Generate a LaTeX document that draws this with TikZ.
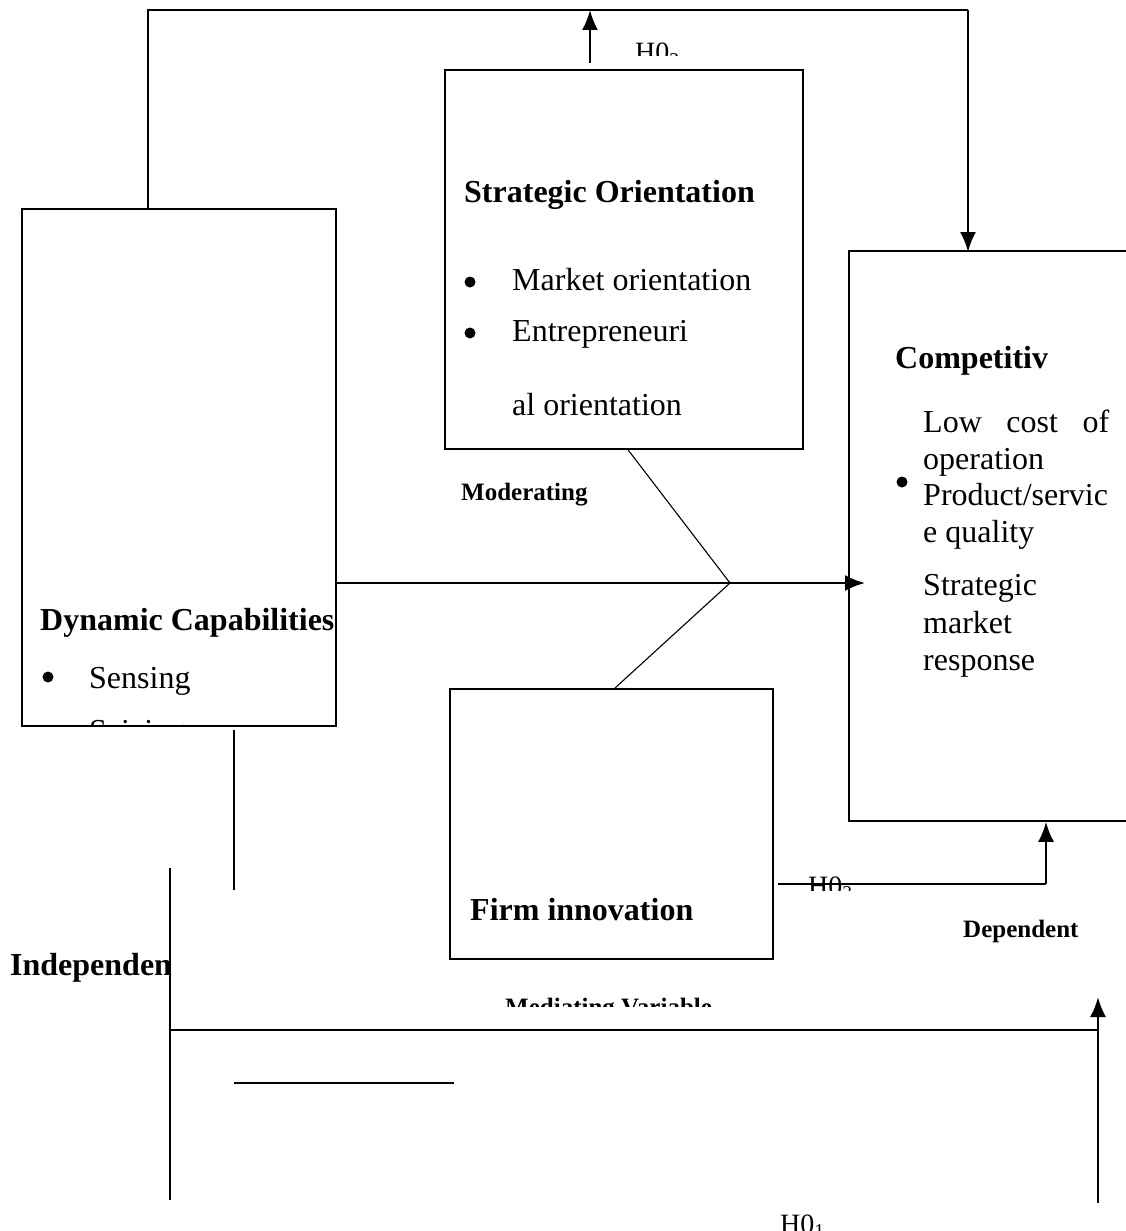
\documentclass[tikz,border=0pt]{standalone}
\usepackage{fontspec}
\setmainfont{Liberation Serif}
\usetikzlibrary{arrows.meta,positioning,calc}
\tikzset{
  block/.style={
    draw=black,
    line width=1.8pt,
    inner sep=0pt,
    anchor=north west
  },
  heading/.style={anchor=base west, inner sep=0pt, font=\fontsize{32}{38}\selectfont\bfseries},
  caption/.style={anchor=base west, inner sep=0pt, font=\fontsize{25}{30}\selectfont\bfseries},
  item/.style={anchor=base west, inner sep=0pt, font=\fontsize{32}{38}\selectfont},
  hyp/.style={anchor=base west, inner sep=0pt, font=\fontsize{28}{34}\selectfont},
  dot/.style={circle, fill=black, inner sep=0pt, minimum size=11pt},
  link/.style={line width=1.1pt},
  wire/.style={line width=2.2pt},
  flow/.style={-{Latex[length=20pt,width=16pt]}, line width=2.4pt}
}
\newcommand{\clipped}[2]{\begin{scope}\clip #1; #2\end{scope}}

\begin{document}
\begin{tikzpicture}[x=1pt, y=-1pt]
  \useasboundingbox (0,0) rectangle (1126,1231);
  \node[block, minimum width=314pt, minimum height=517pt] (dyn) at (21,208) {};
  \node[block, minimum width=358pt, minimum height=379pt] (orient) at (444,69) {};
  \node[block, minimum width=292pt, minimum height=570pt] (comp) at (848,250) {};
  \node[block, minimum width=323pt, minimum height=270pt] (firm) at (449,688) {};

  \node[heading] (orienttitle) at (464,202) {Strategic Orientation};
  \node[dot] (ob1) at (470,282) {};
  \node[item] (market) at (512,290) {Market orientation};
  \node[dot] (ob2) at (470,333) {};
  \node[item] (entre) at (512,341) {Entrepreneuri};
  \node[item] (entre2) at (512,415) {al orientation};

  \node[heading] (dyntitle) at (40,630) {Dynamic Capabilities};
  \node[dot] (db1) at (48,677) {};
  \node[item] (sensing) at (89,688) {Sensing};
  \clipped{(dyn.north west) rectangle (dyn.south east)}{\node[item] (seizing) at (89,741) {Seizing};}

  \node[heading] (comptitle) at (895,368) {Competitiv};
  \node[item] (lowcost) at (923,432) {\makebox[186pt][s]{Low cost of}};
  \node[item] (operation) at (923,469) {operation};
  \node[dot] (cb1) at (902,482) {};
  \node[item] (product) at (923,505) {Product/servic};
  \node[item] (quality) at (923,542) {e quality};
  \node[item] (strat) at (923,595) {Strategic};
  \node[item] (mkt) at (923,633) {market};
  \node[item] (resp) at (923,670) {response};

  \node[heading] (firmtitle) at (470,920) {Firm innovation};
  \node[caption] (moderating) at (461,500) {Moderating};
  \node[caption] (dependent) at (963,937) {Dependent};
  \node[heading] (indep) at (10,975) {Independen};
  \clipped{(400,980) rectangle (800,1006)}{\node[caption] (mediating) at (505,1015) {Mediating Variable};}

  \clipped{(600,0) rectangle (720,56)}{\node[hyp] (h2) at (635,62) {H0\textsubscript{2}};}
  \clipped{(790,860) rectangle (900,890)}{\node[hyp] (h3) at (808,895) {H0\textsubscript{3}};}
  \node[hyp] (h1) at (780,1233) {H0\textsubscript{1}};

  \coordinate (topL) at (148,10);
  \coordinate (topR) at (968,10);
  \coordinate (joint) at (730,583);
  \coordinate (h3L) at (778,884);
  \coordinate (h3R) at (1046,884);
  \coordinate (dynlow) at (234,890);
  \coordinate (indtop) at (170,868);
  \coordinate (indbot) at (170,1200);
  \coordinate (baseL) at (170,1030);
  \coordinate (baseR) at (1098,1030);
  \coordinate (riseB) at (1098,1203);
  \coordinate (riseT) at (1098,997);
  \coordinate (stubL) at (234,1083);
  \coordinate (stubR) at (454,1083);

  \draw[link] (dyn.north -| topL) -- (topL) -- (topR);
  \draw[flow, shorten >=-2pt] (topR) -- (comp.north -| topR);
  \draw[flow, shorten <=6pt] (orient.north -| 590,0) -- (590,10);
  \draw[flow, shorten >=-17pt] (dyn.east |- joint) -- (comp.west |- joint);
  \draw[link] (orient.south -| 628,0) -- (joint) -- (firm.north -| 615,0);
  \draw[link, line width=1.6pt] (h3L) -- (h3R);
  \draw[flow] (h3R) -- (comp.south -| h3R);
  \draw[line width=2.6pt] (dyn.south -| dynlow) ++(0,3) -- (dynlow);
  \draw[line width=1.6pt] (indtop) -- (indbot);
  \draw[wire] (baseL) -- (baseR);
  \draw[flow] (riseB) -- (riseT);
  \draw[wire] (stubL) -- (stubR);
\end{tikzpicture}
\end{document}
